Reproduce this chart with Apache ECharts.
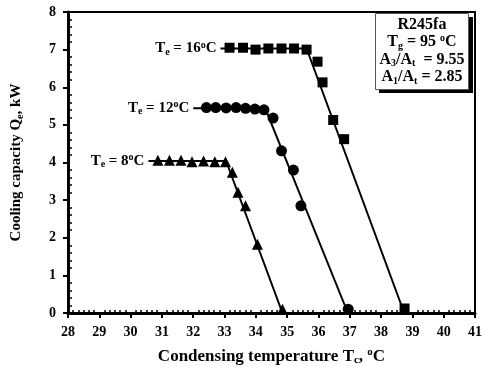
<!DOCTYPE html>
<html>
<head>
<meta charset="utf-8">
<script src="https://cdn.jsdelivr.net/npm/echarts@6/dist/echarts.min.js"></script>
<style>
  html, body { margin: 0; padding: 0; background: #fff; }
  #chart { width: 484px; height: 367px; }
</style>
</head>
<body>
<div id="chart"></div>
<script>
// measured points, [Tc, Qe]
const te16Points = [[33.16, 7.05], [33.59, 7.05], [33.99, 7.0], [34.40, 7.03], [34.82, 7.03], [35.22, 7.03], [35.62, 7.0],
  [35.97, 6.68], [36.13, 6.13], [36.47, 5.13], [36.82, 4.62], [38.75, 0.12]]
const te12Points = [[32.42, 5.46], [32.72, 5.46], [33.05, 5.45], [33.37, 5.46], [33.67, 5.44], [33.97, 5.42], [34.26, 5.40],
  [34.55, 5.18], [34.82, 4.31], [35.20, 3.80], [35.44, 2.85], [36.95, 0.1]]
const te8Points = [[30.87, 4.06], [31.24, 4.06], [31.61, 4.06], [31.96, 4.02], [32.33, 4.04], [32.69, 4.02], [33.03, 4.02],
  [33.25, 3.74], [33.43, 3.21], [33.67, 2.85], [34.05, 1.83], [34.85, 0.1]]

// fitted lines (plateau + linear drop)
const te16Fit = [[32.87, 7.03], [35.62, 7.03], [38.74, 0]]
const te12Fit = [[32.0, 5.44], [34.3, 5.44], [36.94, 0]]
const te8Fit = [[30.57, 4.04], [33.05, 4.04], [34.85, 0]]

const curveLabels = ["16", "12", "8"]
const xTicks = [28, 41, 1]
const yTicks = [0, 8, 1]

const FONT = "Liberation Serif"
const chart = echarts.init(document.getElementById("chart"))

// rich text helper: b = normal, sub = subscript, sup = superscript
const makeRich = (size, lh) => ({
  b: { fontFamily: FONT, fontWeight: "bold", fontSize: size, lineHeight: lh, color: "#000" },
  sub: { fontFamily: FONT, fontWeight: "bold", fontSize: Math.round(size * 0.65), lineHeight: lh, verticalAlign: "bottom", color: "#000" },
  sup: { fontFamily: FONT, fontWeight: "bold", fontSize: Math.round(size * 0.65), lineHeight: lh, verticalAlign: "top", color: "#000" }
})

const fits = [te16Fit, te12Fit, te8Fit]

// fit lines, the Te label sits left of the first point
const fitSeries = fits.map((f, i) => ({
  type: "line",
  data: f.map((p, j) => j === 0 ? {
    value: p,
    label: {
      show: true, position: "left", distance: 4, color: "#000",
      formatter: "{b|T}{sub|e}{b| = " + curveLabels[i] + "}{sup|o}{b|C}",
      rich: makeRich(15, 17)
    }
  } : p),
  symbol: "circle",
  symbolSize: 0.01,
  showSymbol: true,
  itemStyle: { color: "#000", opacity: 1 },
  lineStyle: { color: "#000", width: 2 },
  z: 2,
  silent: true
}))

const markerSeries = [
  { data: te16Points, symbol: "rect", symbolSize: 10 },
  { data: te12Points, symbol: "circle", symbolSize: 11 },
  { data: te8Points, symbol: "triangle", symbolSize: 11 }
].map(s => ({
  type: "scatter",
  data: s.data,
  symbol: s.symbol,
  symbolSize: s.symbolSize,
  itemStyle: { color: "#000", opacity: 1 },
  z: 3
}))

const tickStyle = { color: "#000", width: 2 }

chart.setOption({
  animation: false,
  backgroundColor: "#fff",
  grid: {
    left: 68, right: 9, top: 12, bottom: 54,
    containLabel: false, outerBoundsMode: "none",
    show: true, borderColor: "#000", borderWidth: 2
  },
  xAxis: [
    {
      type: "value", min: xTicks[0], max: xTicks[1], interval: xTicks[2],
      name: "{b|Condensing temperature T}{sub|c}{b|, }{sup|o}{b|C}",
      nameLocation: "middle", nameGap: 34,
      nameTextStyle: { rich: makeRich(17, 19) },
      axisLine: { lineStyle: { color: "#000", width: 3 } },
      axisTick: { show: true, length: 5, lineStyle: tickStyle },
      axisLabel: { fontFamily: FONT, fontWeight: "bold", fontSize: 14, color: "#000", margin: 12 },
      splitLine: { show: false }
    },
    {
      // inner minor ticks only
      type: "value", min: xTicks[0], max: xTicks[1], interval: xTicks[2], position: "bottom",
      axisLine: { show: false },
      axisTick: { show: false, inside: true },
      minorTick: { show: true, splitNumber: 6, length: 3, lineStyle: { color: "#000", width: 1.5 } },
      axisLabel: { show: false },
      splitLine: { show: false }
    }
  ],
  yAxis: [
    {
      type: "value", min: yTicks[0], max: yTicks[1], interval: yTicks[2],
      name: "{b|Cooling capacity Q}{sub|e}{b|, kW}",
      nameLocation: "middle", nameGap: 43, nameRotate: 90,
      nameTextStyle: { rich: makeRich(15, 17) },
      axisLine: { show: true, lineStyle: { color: "#000", width: 3 } },
      axisTick: { show: true, length: 5, lineStyle: tickStyle },
      axisLabel: { fontFamily: FONT, fontWeight: "bold", fontSize: 14, color: "#000", margin: 12 },
      splitLine: { show: false }
    },
    {
      type: "value", min: yTicks[0], max: yTicks[1], interval: yTicks[2], position: "left",
      axisLine: { show: false },
      axisTick: { show: false, inside: true },
      minorTick: { show: true, splitNumber: 5, length: 4, lineStyle: { color: "#000", width: 1.5 } },
      axisLabel: { show: false },
      splitLine: { show: false }
    }
  ],
  series: [
    ...fitSeries,
    ...markerSeries
  ],
  graphic: [
    // info box with drop shadow
    { type: "rect", shape: { x: 379, y: 17, width: 94, height: 76 }, style: { fill: "#000" }, z: 10 },
    { type: "rect", shape: { x: 375.5, y: 13.5, width: 93, height: 76 }, style: { fill: "#fff", stroke: "#555", lineWidth: 1 }, z: 11 },
    {
      type: "text", x: 422, y: 16, z: 12,
      style: {
        text: "{b|R245fa}\n{b|T}{sub|g}{b| = 95 }{sup|o}{b|C}\n{b|A}{sub|3}{b|/A}{sub|t}{b|  = 9.55}\n{b|A}{sub|1}{b|/A}{sub|t}{b| = 2.85}",
        align: "center",
        verticalAlign: "top",
        rich: makeRich(16, 17.5)
      }
    }
  ]
})
</script>
</body>
</html>
